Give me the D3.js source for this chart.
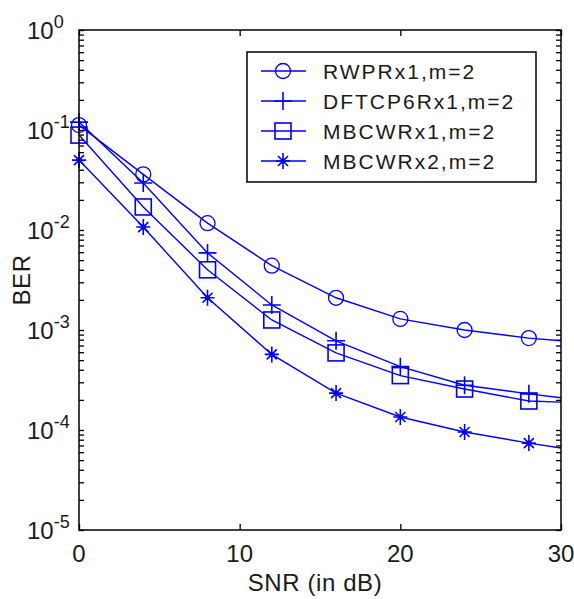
<!DOCTYPE html>
<html>
<head>
<meta charset="utf-8">
<script src="https://cdn.jsdelivr.net/npm/d3@7"></script>
<style>
  html, body { margin: 0; padding: 0; background: #fff; }
  svg { display: block; font-family: "Liberation Sans", Arial, sans-serif; }
</style>
</head>
<body>
<svg id="chart" width="574" height="599"></svg>
<script>
"use strict";

// SNR points (dB); the last point carries no marker
const snr = [0, 4, 8, 12, 16, 20, 24, 28, 30];

const seriesNames = ["RWPRx1,m=2", "DFTCP6Rx1,m=2", "MBCWRx1,m=2", "MBCWRx2,m=2"];
const seriesMarkers = ["circle", "plus", "square", "star"];

const rwpr = [0.112, 0.036, 0.0117, 0.0044, 0.0021, 0.00129, 0.001, 0.00083, 0.00078];
const dftcp6 = [0.12, 0.0295, 0.0059, 0.00178, 0.00078, 0.00043, 0.00028, 0.00023, 0.00021];
const mbcwr1 = [0.089, 0.017, 0.004, 0.00126, 0.00059, 0.00035, 0.000257, 0.000195, 0.00019];
const mbcwr2 = [0.05, 0.0107, 0.0021, 0.00057, 0.000234, 0.000135, 0.0000955, 0.000074, 0.000066];

const xTicks = [0, 10, 20, 30];
const yExponents = [0, -1, -2, -3, -4, -5];

const seriesValues = [rwpr, dftcp6, mbcwr1, mbcwr2];

const margin = { left: 79, top: 30, right: 13, bottom: 69 };
const width = 574, height = 599;
const blue = "#0000ff";
const ink = "#1a1a1a";

const svg = d3.select("#chart");

const x = d3.scaleLinear().domain([0, 30]).range([margin.left, width - margin.right]);
const y = d3.scaleLog().domain([1e-5, 1]).range([height - margin.bottom, margin.top]);

// axes: ticks inward on all four sides
const minorY = [];
for (let e = -5; e < 0; e++) {
  for (let m = 1; m < 10; m++) minorY.push(m * Math.pow(10, e));
}
minorY.push(1);

const axisStyle = (g) => {
  g.select(".domain").remove();
  g.selectAll("text").remove();
  g.selectAll("line").attr("stroke", "#000").attr("stroke-width", 1.3);
};

svg.append("g")
  .attr("transform", `translate(0,${y.range()[0]})`)
  .call(d3.axisBottom(x).tickValues(xTicks).tickSize(-6))
  .call(axisStyle);
svg.append("g")
  .attr("transform", `translate(0,${y.range()[1]})`)
  .call(d3.axisTop(x).tickValues(xTicks).tickSize(-6))
  .call(axisStyle);
svg.append("g")
  .attr("transform", `translate(${x.range()[0]},0)`)
  .call(d3.axisLeft(y).tickValues(minorY).tickSize(-5))
  .call(axisStyle);
svg.append("g")
  .attr("transform", `translate(${x.range()[1]},0)`)
  .call(d3.axisRight(y).tickValues(minorY).tickSize(-5))
  .call(axisStyle);

// tick labels
svg.append("g")
  .selectAll("text")
  .data(xTicks)
  .join("text")
  .attr("x", (d) => x(d))
  .attr("y", height - margin.bottom + 32)
  .attr("text-anchor", "middle")
  .attr("font-size", 24)
  .attr("fill", ink)
  .text((d) => d);

const yl = svg.append("g")
  .selectAll("text")
  .data(yExponents)
  .join("text")
  .attr("x", 27)
  .attr("y", (d) => y(Math.pow(10, d)) + 9)
  .attr("font-size", 24)
  .attr("fill", ink);
yl.append("tspan").text("10");
yl.append("tspan")
  .attr("font-size", 18)
  .attr("dy", -11)
  .text((d) => d);

// axis titles
svg.append("text")
  .attr("x", (x.range()[0] + x.range()[1]) / 2 - 5)
  .attr("y", 591)
  .attr("text-anchor", "middle")
  .attr("font-size", 24)
  .attr("letter-spacing", 0.6)
  .attr("fill", ink)
  .text("SNR (in dB)");
svg.append("text")
  .attr("transform", `translate(30,${(y.range()[0] + y.range()[1]) / 2}) rotate(-90)`)
  .attr("text-anchor", "middle")
  .attr("font-size", 24)
  .attr("letter-spacing", 0.6)
  .attr("fill", ink)
  .text("BER");

// marker drawing
function drawMarker(g, type) {
  if (type === "circle") {
    g.append("circle").attr("r", 7.5).attr("fill", "none").attr("stroke", blue).attr("stroke-width", 1.3);
  } else if (type === "square") {
    g.append("rect").attr("x", -8).attr("y", -8).attr("width", 16).attr("height", 16)
      .attr("fill", "none").attr("stroke", blue).attr("stroke-width", 1.6);
  } else if (type === "plus") {
    g.append("path").attr("d", "M-9,0H9M0,-9V9").attr("stroke", blue).attr("stroke-width", 1.6);
  } else if (type === "star") {
    g.append("path")
      .attr("d", "M-7,0H7M0,-8V8M-5,-5L5,5M-5,5L5,-5")
      .attr("stroke", blue).attr("stroke-width", 1.6);
    g.append("circle").attr("r", 2.5).attr("fill", blue);
  }
}

const line = d3.line().x((d) => x(d[0])).y((d) => y(d[1]));

const plot = svg.append("g");
seriesValues.forEach((vals, i) => {
  const pts = snr.map((s, j) => [s, vals[j]]);
  plot.append("path")
    .datum(pts)
    .attr("fill", "none")
    .attr("stroke", blue)
    .attr("stroke-width", 1.4)
    .attr("d", line);
  plot.append("g")
    .selectAll("g")
    .data(pts.filter((p) => p[0] % 4 === 0))
    .join("g")
    .attr("transform", (d) => `translate(${x(d[0])},${y(d[1])})`)
    .each(function () { drawMarker(d3.select(this), seriesMarkers[i]); });
});

// plot frame
svg.append("rect")
  .attr("x", x.range()[0])
  .attr("y", y.range()[1])
  .attr("width", x.range()[1] - x.range()[0])
  .attr("height", y.range()[0] - y.range()[1])
  .attr("fill", "none")
  .attr("stroke", "#000")
  .attr("stroke-width", 1.5);

// legend
const legend = svg.append("g");
legend.append("rect")
  .attr("x", 247).attr("y", 52).attr("width", 289).attr("height", 130)
  .attr("fill", "#fff").attr("stroke", "#000").attr("stroke-width", 1.5);
seriesNames.forEach((name, i) => {
  const cy = 71 + i * 30;
  const row = legend.append("g").attr("transform", `translate(0,${cy})`);
  row.append("line").attr("x1", 261).attr("x2", 306)
    .attr("stroke", blue).attr("stroke-width", 1.4);
  drawMarker(row.append("g").attr("transform", "translate(283,0)"), seriesMarkers[i]);
  row.append("text")
    .attr("x", 323).attr("y", 8)
    .attr("font-size", 21)
    .attr("letter-spacing", 2)
    .attr("fill", ink)
    .text(name);
});
</script>
</body>
</html>
